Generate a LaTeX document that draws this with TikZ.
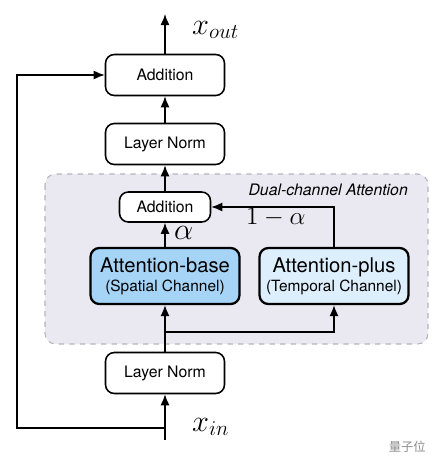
\documentclass[tikz,border=0pt]{standalone}
\usepackage{fontspec}
\setsansfont{TeX Gyre Heros}
\newfontfamily\cjk{Noto Sans CJK SC}
\usepackage{fix-cm}
\usepackage{amsmath}
\usepackage{xcolor}
\usetikzlibrary{arrows.meta, positioning, calc}

\definecolor{regionfill}{HTML}{EAE9F1}
\definecolor{regiondraw}{HTML}{B4B4BC}
\definecolor{basefill}{HTML}{A6D4F6}
\definecolor{plusfill}{HTML}{DDEFFC}

\begin{document}
\begin{tikzpicture}[
  x=0.02cm, y=-0.02cm,
  box/.style={rectangle, rounded corners=5pt, draw=black, line width=0.9pt, fill=white,
              minimum width=2.38cm, minimum height=0.82cm, align=center, font=\sffamily\fontsize{9}{10}\selectfont},
  addbox/.style={box, minimum width=1.82cm, minimum height=0.6cm},
  attn/.style={rectangle, rounded corners=5pt, draw=black, line width=1.3pt,
              minimum width=2.98cm, minimum height=1.12cm, align=center, inner sep=1pt,
              font=\sffamily\fontsize{11.5}{12}\selectfont},
  arr/.style={-{Latex[length=2.2mm, width=1.8mm]}, line width=0.75pt, black},
  lbl/.style={font=\LARGE}
]
\useasboundingbox (0,0) rectangle (446,464);

% dual-channel region
\draw[regiondraw, fill=regionfill, dashed, line width=0.6pt, rounded corners=6pt]
  (45,174) rectangle (428,344);
\node[anchor=east, font=\sffamily\itshape\fontsize{9}{10}\selectfont] at (414,190)
  {Dual-channel Attention};

\node[box] (add) at (165,75) {Addition};
\node[box] (norm2) at (165,144) {Layer Norm};
\node[addbox] (addin) at (165,207) {Addition};
\node[attn, fill=basefill] (base) at (165,276)
  {Attention-base\\[-1pt]{\fontsize{8.8}{9}\selectfont (Spatial Channel)}};
\node[attn, fill=plusfill] (plus) at (334,276)
  {Attention-plus\\[-1pt]{\fontsize{8.8}{9}\selectfont (Temporal Channel)}};
\node[box] (norm1) at (165,373) {Layer Norm};

\coordinate (out) at (165,14);
\coordinate (in) at (165,440);
\coordinate (skip) at (165,428);
\coordinate (split) at (165,332);

\node[lbl, anchor=west] at (186,30) {$x_{out}$};
\node[lbl, anchor=west] at (186,427) {$x_{in}$};
\node[lbl, anchor=west] at (168,233) {$\alpha$};
\node[lbl, anchor=west, font=\Large] at (240,217) {$1-\alpha$};

\draw[arr] (add) -- (out);
\draw[arr] (norm2) -- (add);
\draw[arr] (addin) -- (norm2);
\draw[arr] (base) -- (addin);
\draw[arr] (plus.north) |- (addin.east);
\draw[arr] (norm1) -- (base);
\draw[arr] (split) -| (plus.south);
\draw[arr] (in) -- (norm1);
\draw[arr] (skip) -| (17,75) -- (add.west);

\node[text=black!45, font=\cjk\fontsize{7}{8}\selectfont, anchor=east] at (432,447) {量子位};
\end{tikzpicture}
\end{document}
